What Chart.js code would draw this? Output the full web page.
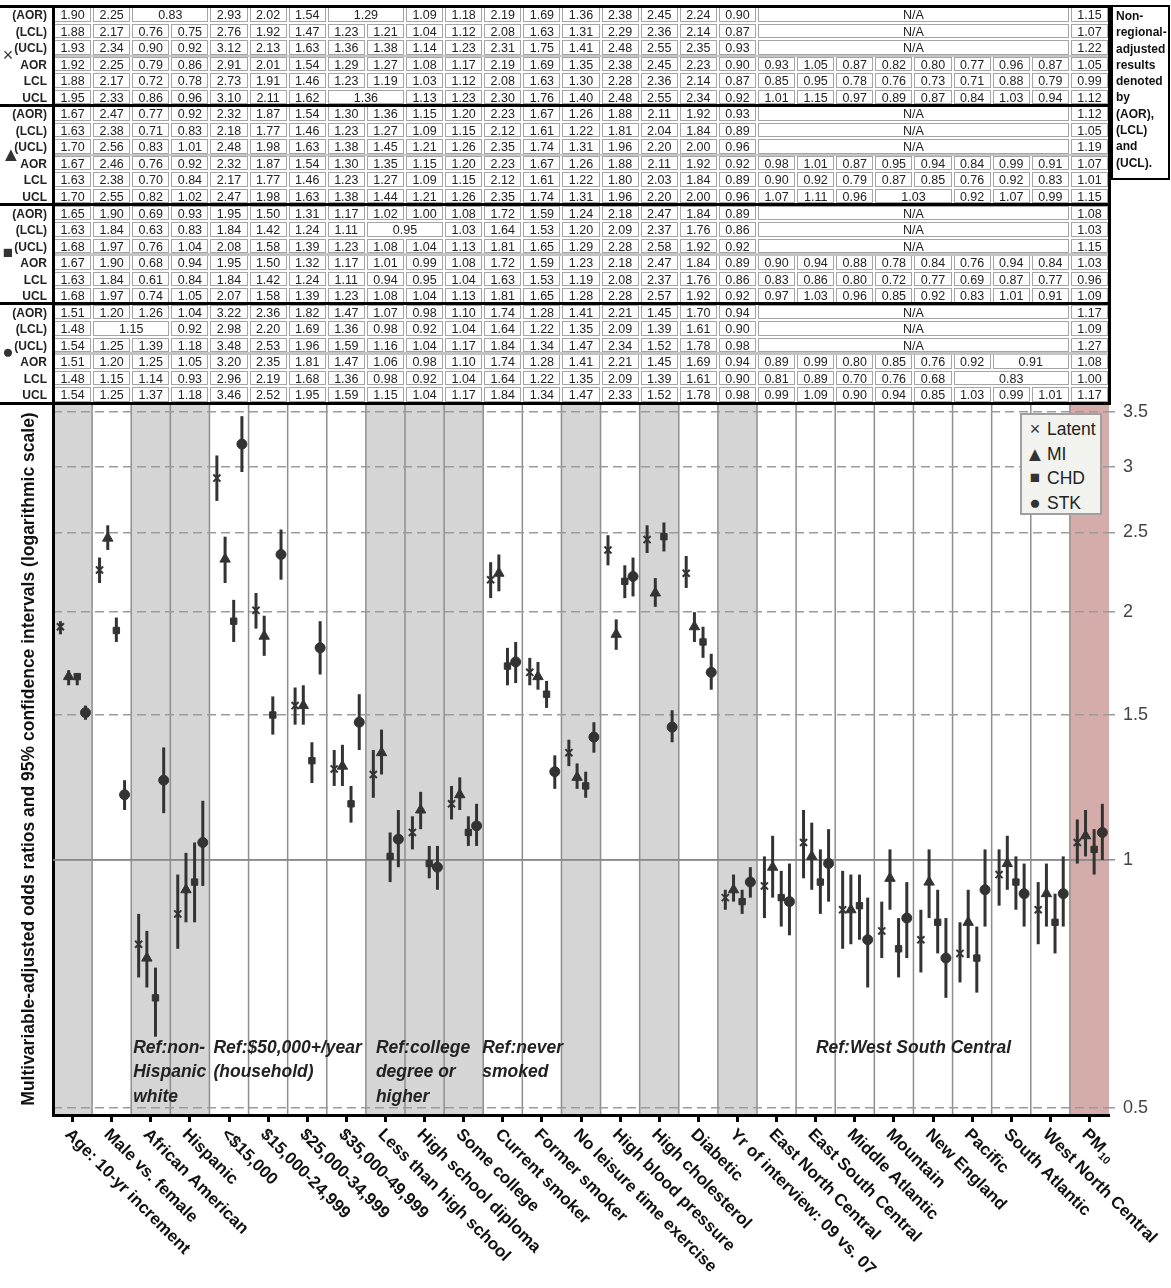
<!DOCTYPE html>
<html>
<head>
<meta charset="utf-8">
<script src="https://cdn.jsdelivr.net/npm/chart.js@4.4.1/dist/chart.umd.min.js"></script>
<style>
  html, body { margin: 0; padding: 0; background: #fff; }
  body { width: 1171px; height: 1288px; position: relative; overflow: hidden; font-family: 'Liberation Sans', Arial, sans-serif; }
  #c { position: absolute; left: 0; top: 0; }
  #table { position: absolute; left: 0; top: 0; width: 1171px; height: 410px; }
  .cell { position: absolute; box-sizing: border-box; border: 1px solid #a5a5a5; font-size: 12.5px; color: #222; text-align: center; white-space: nowrap; overflow: hidden; }
  .rowlab { position: absolute; left: 0; width: 47px; text-align: right; font-weight: bold; font-size: 12px; color: #222; white-space: nowrap; }
  .sym { position: absolute; left: 1px; width: 14px; text-align: center; color: #333; }
  .rule { position: absolute; background: #000; }
  .sep { position: absolute; background: #c4c4c4; }
  #note { position: absolute; box-sizing: border-box; border: 2.5px solid #000; border-right-width: 2px; font-weight: bold; font-size: 12px; line-height: 16.3px; color: #111; padding: 1px 0 0 3px; white-space: nowrap; }
  #legend { position: absolute; box-sizing: border-box; background: #f2f2ee; border: 2px solid #a0a0a0; padding: 2px 0 0 3px; }
  #legend div { height: 24.5px; line-height: 24.5px; font-size: 17.5px; color: #222; white-space: nowrap; overflow: hidden; }
  #legend span { display: inline-block; width: 20px; margin-right: 2px; text-align: center; color: #333; vertical-align: top; }
</style>
</head>
<body>
<canvas id="c" width="1171" height="1288"></canvas>
<div id="table"></div>
<div id="legend"></div>
<script>
var categories = ['Age: 10-yr increment', 'Male vs. female', 'African American', 'Hispanic', '<$15,000',
    '$15,000-24,999', '$25,000-34,999', '$35,000-49,999', 'Less than high school', 'High school diploma',
    'Some college', 'Current smoker', 'Former smoker', 'No leisure time exercise', 'High blood pressure',
    'High cholesterol', 'Diabetic', 'Yr of interview: 09 vs. 07', 'East North Central', 'East South Central',
    'Middle Atlantic', 'Mountain', 'New England', 'Pacific', 'South Atlantic', 'West North Central', 'PM_10'];

var yTicks = [0.5, 1, 1.5, 2, 2.5, 3, 3.5];

// regional-adjusted results (plotted)
var latentAor = [1.92, 2.25, 0.79, 0.86, 2.91, 2.01, 1.54, 1.29, 1.27, 1.08, 1.17, 2.19, 1.69, 1.35, 2.38, 2.45, 2.23, 0.90, 0.93, 1.05, 0.87, 0.82, 0.80, 0.77, 0.96, 0.87, 1.05];
var latentLcl = [1.88, 2.17, 0.72, 0.78, 2.73, 1.91, 1.46, 1.23, 1.19, 1.03, 1.12, 2.08, 1.63, 1.30, 2.28, 2.36, 2.14, 0.87, 0.85, 0.95, 0.78, 0.76, 0.73, 0.71, 0.88, 0.79, 0.99];
var latentUcl = [1.95, 2.33, 0.86, 0.96, 3.10, 2.11, 1.62, 1.36, 1.36, 1.13, 1.23, 2.30, 1.76, 1.40, 2.48, 2.55, 2.34, 0.92, 1.01, 1.15, 0.97, 0.89, 0.87, 0.84, 1.03, 0.94, 1.12];
var miAor = [1.67, 2.46, 0.76, 0.92, 2.32, 1.87, 1.54, 1.30, 1.35, 1.15, 1.20, 2.23, 1.67, 1.26, 1.88, 2.11, 1.92, 0.92, 0.98, 1.01, 0.87, 0.95, 0.94, 0.84, 0.99, 0.91, 1.07];
var miLcl = [1.63, 2.38, 0.70, 0.84, 2.17, 1.77, 1.46, 1.23, 1.27, 1.09, 1.15, 2.12, 1.61, 1.22, 1.80, 2.03, 1.84, 0.89, 0.90, 0.92, 0.79, 0.87, 0.85, 0.76, 0.92, 0.83, 1.01];
var miUcl = [1.70, 2.55, 0.82, 1.02, 2.47, 1.98, 1.63, 1.38, 1.44, 1.21, 1.26, 2.35, 1.74, 1.31, 1.96, 2.20, 2.00, 0.96, 1.07, 1.11, 0.96, 1.03, 1.03, 0.92, 1.07, 0.99, 1.15];
var chdAor = [1.67, 1.90, 0.68, 0.94, 1.95, 1.50, 1.32, 1.17, 1.01, 0.99, 1.08, 1.72, 1.59, 1.23, 2.18, 2.47, 1.84, 0.89, 0.90, 0.94, 0.88, 0.78, 0.84, 0.76, 0.94, 0.84, 1.03];
var chdLcl = [1.63, 1.84, 0.61, 0.84, 1.84, 1.42, 1.24, 1.11, 0.94, 0.95, 1.04, 1.63, 1.53, 1.19, 2.08, 2.37, 1.76, 0.86, 0.83, 0.86, 0.80, 0.72, 0.77, 0.69, 0.87, 0.77, 0.96];
var chdUcl = [1.68, 1.97, 0.74, 1.05, 2.07, 1.58, 1.39, 1.23, 1.08, 1.04, 1.13, 1.81, 1.65, 1.28, 2.28, 2.57, 1.92, 0.92, 0.97, 1.03, 0.96, 0.85, 0.92, 0.83, 1.01, 0.91, 1.09];
var stkAor = [1.51, 1.20, 1.25, 1.05, 3.20, 2.35, 1.81, 1.47, 1.06, 0.98, 1.10, 1.74, 1.28, 1.41, 2.21, 1.45, 1.69, 0.94, 0.89, 0.99, 0.80, 0.85, 0.76, 0.92, 0.91, 0.91, 1.08];
var stkLcl = [1.48, 1.15, 1.14, 0.93, 2.96, 2.19, 1.68, 1.36, 0.98, 0.92, 1.04, 1.64, 1.22, 1.35, 2.09, 1.39, 1.61, 0.90, 0.81, 0.89, 0.70, 0.76, 0.68, 0.83, 0.83, 0.83, 1.00];
var stkUcl = [1.54, 1.25, 1.37, 1.18, 3.46, 2.52, 1.95, 1.59, 1.15, 1.04, 1.17, 1.84, 1.34, 1.47, 2.33, 1.52, 1.78, 0.98, 0.99, 1.09, 0.90, 0.94, 0.85, 1.03, 0.99, 1.01, 1.17];

// non-regional-adjusted results (table only), null = N/A
var N = null;
var latentAorNR = [1.90, 2.25, 0.83, 0.83, 2.93, 2.02, 1.54, 1.29, 1.29, 1.09, 1.18, 2.19, 1.69, 1.36, 2.38, 2.45, 2.24, 0.90, N, N, N, N, N, N, N, N, 1.15];
var latentLclNR = [1.88, 2.17, 0.76, 0.75, 2.76, 1.92, 1.47, 1.23, 1.21, 1.04, 1.12, 2.08, 1.63, 1.31, 2.29, 2.36, 2.14, 0.87, N, N, N, N, N, N, N, N, 1.07];
var latentUclNR = [1.93, 2.34, 0.90, 0.92, 3.12, 2.13, 1.63, 1.36, 1.38, 1.14, 1.23, 2.31, 1.75, 1.41, 2.48, 2.55, 2.35, 0.93, N, N, N, N, N, N, N, N, 1.22];
var miAorNR = [1.67, 2.47, 0.77, 0.92, 2.32, 1.87, 1.54, 1.30, 1.36, 1.15, 1.20, 2.23, 1.67, 1.26, 1.88, 2.11, 1.92, 0.93, N, N, N, N, N, N, N, N, 1.12];
var miLclNR = [1.63, 2.38, 0.71, 0.83, 2.18, 1.77, 1.46, 1.23, 1.27, 1.09, 1.15, 2.12, 1.61, 1.22, 1.81, 2.04, 1.84, 0.89, N, N, N, N, N, N, N, N, 1.05];
var miUclNR = [1.70, 2.56, 0.83, 1.01, 2.48, 1.98, 1.63, 1.38, 1.45, 1.21, 1.26, 2.35, 1.74, 1.31, 1.96, 2.20, 2.00, 0.96, N, N, N, N, N, N, N, N, 1.19];
var chdAorNR = [1.65, 1.90, 0.69, 0.93, 1.95, 1.50, 1.31, 1.17, 1.02, 1.00, 1.08, 1.72, 1.59, 1.24, 2.18, 2.47, 1.84, 0.89, N, N, N, N, N, N, N, N, 1.08];
var chdLclNR = [1.63, 1.84, 0.63, 0.83, 1.84, 1.42, 1.24, 1.11, 0.95, 0.95, 1.03, 1.64, 1.53, 1.20, 2.09, 2.37, 1.76, 0.86, N, N, N, N, N, N, N, N, 1.03];
var chdUclNR = [1.68, 1.97, 0.76, 1.04, 2.08, 1.58, 1.39, 1.23, 1.08, 1.04, 1.13, 1.81, 1.65, 1.29, 2.28, 2.58, 1.92, 0.92, N, N, N, N, N, N, N, N, 1.15];
var stkAorNR = [1.51, 1.20, 1.26, 1.04, 3.22, 2.36, 1.82, 1.47, 1.07, 0.98, 1.10, 1.74, 1.28, 1.41, 2.21, 1.45, 1.70, 0.94, N, N, N, N, N, N, N, N, 1.17];
var stkLclNR = [1.48, 1.15, 1.15, 0.92, 2.98, 2.20, 1.69, 1.36, 0.98, 0.92, 1.04, 1.64, 1.22, 1.35, 2.09, 1.39, 1.61, 0.90, N, N, N, N, N, N, N, N, 1.09];
var stkUclNR = [1.54, 1.25, 1.39, 1.18, 3.48, 2.53, 1.96, 1.59, 1.16, 1.04, 1.17, 1.84, 1.34, 1.47, 2.34, 1.52, 1.78, 0.98, N, N, N, N, N, N, N, N, 1.27];

var rowLabels = ['(AOR)', '(LCL)', '(UCL)', 'AOR', 'LCL', 'UCL'];
var yTitle = 'Multivariable-adjusted odds ratios and 95% confidence intervals (logarithmic scale)';

var FONT = "'Liberation Sans', Arial, sans-serif";
var INK = '#333';

var series = [
    { name: 'Latent', sym: '\u00d7', style: 'crossRot', radius: 5, shift: -0.31, aor: latentAor, lcl: latentLcl, ucl: latentUcl,
      nr: [latentAorNR, latentLclNR, latentUclNR] },
    { name: 'MI', sym: '\u25b2', style: 'triangle', radius: 6, shift: -0.1, aor: miAor, lcl: miLcl, ucl: miUcl,
      nr: [miAorNR, miLclNR, miUclNR] },
    { name: 'CHD', sym: '\u25a0', style: 'rect', radius: 4.5, shift: 0.12, aor: chdAor, lcl: chdLcl, ucl: chdUcl,
      nr: [chdAorNR, chdLclNR, chdUclNR] },
    { name: 'STK', sym: '\u25cf', style: 'circle', radius: 5, shift: 0.33, aor: stkAor, lcl: stkLcl, ucl: stkUcl,
      nr: [stkAorNR, stkLclNR, stkUclNR] }
];
var symSize = { '\u00d7': '18px', '\u25b2': '20px', '\u25a0': '17px', '\u25cf': '19px' };

// column shading: g = gray reference groups, p = PM10
var bandFill = { g: '#d5d5d5', p: '#d4adab' };
var bands = ['g', '', 'g', 'g', '', '', '', '', 'g', 'g', 'g', '', '', 'g', '', 'g', '', 'g', '', '', '', '', '', '', '', '', 'p'];

var refNotes = [
    { from: 2, dx: 2, lines: ['Ref:non-', 'Hispanic', 'white'] },
    { from: 4, dx: 4, lines: ['Ref:$50,000+/year', '(household)'] },
    { from: 8, dx: 10, lines: ['Ref:college', 'degree or', 'higher'] },
    { from: 11, dx: -1, lines: ['Ref:never', 'smoked'] },
    { from: 18, to: 25, lines: ['Ref:West South Central'] }
];

var datasets = series.map(function (s) {
    return {
        label: s.name,
        data: s.aor.map(function (v, i) { return { x: i + s.shift, y: v }; }),
        lcl: s.lcl,
        ucl: s.ucl,
        pointStyle: s.style,
        pointRadius: s.radius,
        pointBackgroundColor: INK,
        pointBorderColor: INK,
        pointBorderWidth: s.style === 'crossRot' ? 2 : 1,
        showLine: false,
        yAxisID: 'y'
    };
});

var bandPlugin = {
    id: 'bands',
    beforeDraw: function (chart) {
        var ctx = chart.ctx, a = chart.chartArea, xs = chart.scales.x;
        ctx.save();
        bands.forEach(function (b, i) {
            if (!b) return;
            var l = xs.getPixelForValue(i - 0.5), r = xs.getPixelForValue(i + 0.5);
            ctx.fillStyle = bandFill[b];
            ctx.fillRect(l, a.top, r - l, a.bottom - a.top);
        });
        ctx.strokeStyle = '#8e8e8e';
        ctx.lineWidth = 1.5;
        for (var i = 1; i < categories.length; i++) {
            var x = xs.getPixelForValue(i - 0.5);
            ctx.beginPath();
            ctx.moveTo(x, a.top);
            ctx.lineTo(x, a.bottom);
            ctx.stroke();
        }
        ctx.restore();
    }
};

var errorBarPlugin = {
    id: 'errorBars',
    beforeDatasetsDraw: function (chart) {
        var ctx = chart.ctx, ys = chart.scales.y, a = chart.chartArea;
        ctx.save();
        // solid reference line at OR = 1
        ctx.strokeStyle = '#8a8a8a';
        ctx.lineWidth = 1.5;
        var y1 = ys.getPixelForValue(1);
        ctx.beginPath();
        ctx.moveTo(a.left, y1);
        ctx.lineTo(a.right, y1);
        ctx.stroke();

        ctx.strokeStyle = INK;
        ctx.lineWidth = 3;
        chart.data.datasets.forEach(function (ds, d) {
            chart.getDatasetMeta(d).data.forEach(function (pt, i) {
                ctx.beginPath();
                ctx.moveTo(pt.x, ys.getPixelForValue(ds.lcl[i]));
                ctx.lineTo(pt.x, ys.getPixelForValue(ds.ucl[i]));
                ctx.stroke();
            });
        });
        ctx.restore();
    }
};

var labelPlugin = {
    id: 'labels',
    afterDraw: function (chart) {
        var ctx = chart.ctx, a = chart.chartArea, xs = chart.scales.x;
        ctx.save();
        ctx.fillStyle = '#111';
        ctx.textAlign = 'left';
        ctx.textBaseline = 'middle';
        categories.forEach(function (c, i) {
            var parts = c.split('_');
            ctx.save();
            ctx.translate(xs.getPixelForValue(i) - 5, a.bottom + 17);
            ctx.rotate(Math.PI / 4);
            ctx.font = 'bold 17px ' + FONT;
            ctx.fillText(parts[0], 0, 0);
            if (parts[1]) {
                var w = ctx.measureText(parts[0]).width;
                ctx.font = 'bold 11px ' + FONT;
                ctx.fillText(parts[1], w + 1, 5);
            }
            ctx.restore();
        });

        ctx.font = 'italic bold 17.5px ' + FONT;
        ctx.fillStyle = '#222';
        refNotes.forEach(function (n) {
            n.lines.forEach(function (t, k) {
                var y = a.bottom - 67 + k * 24.5;
                if (n.to !== undefined) {
                    ctx.textAlign = 'center';
                    ctx.fillText(t, (xs.getPixelForValue(n.from - 0.5) + xs.getPixelForValue(n.to + 0.5)) / 2, y);
                } else {
                    ctx.textAlign = 'left';
                    ctx.fillText(t, xs.getPixelForValue(n.from - 0.5) + n.dx, y);
                }
            });
        });
        ctx.restore();
    }
};

var chart = new Chart(document.getElementById('c'), {
    type: 'scatter',
    data: { datasets: datasets },
    options: {
        responsive: false,
        animation: false,
        events: [],
        layout: { padding: { top: 403, left: 0, right: 0, bottom: 0 } },
        plugins: { legend: { display: false }, tooltip: { enabled: false } },
        scales: {
            x: {
                type: 'linear',
                position: 'bottom',
                min: -0.5,
                max: categories.length - 0.5,
                afterBuildTicks: function (s) {
                    s.ticks = categories.map(function (c, i) { return { value: i }; });
                },
                afterFit: function (s) { s.height = 173; },
                ticks: { display: false },
                grid: { drawOnChartArea: false, drawTicks: true, tickLength: 7, tickWidth: 3, tickColor: '#000' },
                border: { display: true, color: '#000', width: 3 }
            },
            y: {
                type: 'logarithmic',
                position: 'right',
                min: 0.49,
                max: 3.59,
                afterBuildTicks: function (s) {
                    s.ticks = yTicks.map(function (v) { return { value: v }; });
                },
                afterFit: function (s) { s.width = 62; },
                ticks: {
                    callback: function (v) { return String(v); },
                    font: { size: 18, family: FONT },
                    color: '#444',
                    padding: 8
                },
                grid: {
                    color: function (ctx) { return ctx.tick && ctx.tick.value === 1 ? '#8a8a8a' : '#9b9b9b'; },
                    lineWidth: 1.5,
                    drawTicks: true,
                    tickLength: 6
                },
                border: {
                    display: false,
                    dash: function (ctx) { return ctx.tick && ctx.tick.value === 1 ? [] : [9, 5]; }
                }
            },
            yL: {
                type: 'logarithmic',
                position: 'left',
                min: 0.49,
                max: 3.59,
                afterFit: function (s) { s.width = 53; },
                ticks: { display: false },
                grid: { display: false },
                border: { display: true, color: '#000', width: 3 },
                title: {
                    display: true,
                    text: yTitle,
                    color: '#111',
                    font: { size: 17.5, weight: 'bold', family: FONT },
                    padding: { top: 19, bottom: 0 }
                }
            }
        }
    },
    plugins: [bandPlugin, errorBarPlugin, labelPlugin]
});

function addDiv(host, cls, css, text) {
    var el = document.createElement('div');
    el.className = cls;
    Object.keys(css).forEach(function (k) { el.style[k] = css[k]; });
    if (text !== undefined) el.textContent = text;
    host.appendChild(el);
    return el;
}

function buildTable() {
    var host = document.getElementById('table');
    var xs = chart.scales.x, area = chart.chartArea;
    var top = 6, rowH = (area.top - top) / 24;
    var edge = function (i) { return xs.getPixelForValue(i - 0.5); };
    var left = edge(0), right = edge(categories.length);

    series.forEach(function (s, b) {
        var rows = s.nr.concat([s.aor, s.lcl, s.ucl]);
        rows.forEach(function (row, r) {
            var y = top + (b * 6 + r) * rowH;
            addDiv(host, 'rowlab', { top: (y + 1) + 'px', height: rowH + 'px', lineHeight: rowH + 'px' }, rowLabels[r]);
            var i = 0;
            while (i < row.length) {
                var j = i;
                while (j + 1 < row.length && row[j + 1] === row[i]) j++;
                var x0 = edge(i), x1 = edge(j + 1);
                addDiv(host, 'cell', {
                    left: (x0 + 1) + 'px', width: (x1 - x0 - 2) + 'px',
                    top: (y + 1) + 'px', height: (rowH - 2) + 'px', lineHeight: (rowH - 2) + 'px'
                }, row[i] === null ? 'N/A' : row[i].toFixed(2));
                i = j + 1;
            }
        });
        var mid = top + (b * 6 + 3) * rowH;
        addDiv(host, 'sep', { left: left + 'px', width: (right - left) + 'px', top: (mid - 1) + 'px', height: '2.5px' });
        addDiv(host, 'sym', { top: (mid - 11) + 'px', height: '20px', lineHeight: '20px', fontSize: symSize[s.sym] }, s.sym);
    });

    for (var k = 0; k <= 4; k++) {
        var yy = top + k * 6 * rowH;
        addDiv(host, 'rule', { left: '0px', width: (right + 1.5) + 'px', top: (yy - 1.5) + 'px', height: '3px' });
    }
    addDiv(host, 'rule', { left: (left - 1.5) + 'px', width: '3px', top: (top - 1.5) + 'px', height: (area.top - top + 3) + 'px' });
    addDiv(host, 'rule', { left: (right - 1.5) + 'px', width: '3px', top: (top - 1.5) + 'px', height: (area.top - top + 3) + 'px' });

    var note = addDiv(host, '', { left: (right + 2) + 'px', top: (top - 1) + 'px', width: (1170 - right - 2) + 'px', height: (10.5 * rowH + 1) + 'px' });
    note.id = 'note';
    note.innerHTML = 'Non-<br>regional-<br>adjusted<br>results<br>denoted<br>by<br>(AOR),<br>(LCL)<br>and<br>(UCL).';
}

function buildLegend() {
    var a = chart.chartArea;
    var lg = document.getElementById('legend');
    lg.style.left = (a.right - 89) + 'px';
    lg.style.top = (a.top + 10) + 'px';
    lg.style.width = '82px';
    lg.style.height = '102px';
    series.forEach(function (s) {
        var row = document.createElement('div');
        var mark = document.createElement('span');
        mark.textContent = s.sym;
        mark.style.fontSize = symSize[s.sym];
        row.appendChild(mark);
        row.appendChild(document.createTextNode(s.name));
        lg.appendChild(row);
    });
}

buildTable();
buildLegend();
</script>
</body>
</html>
